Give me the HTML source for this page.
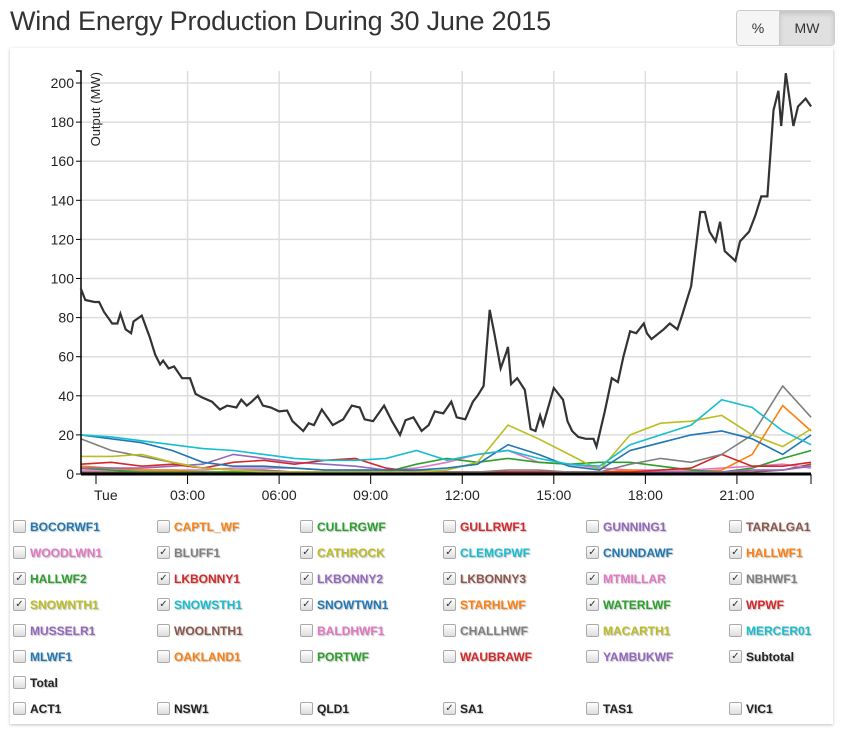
<!DOCTYPE html>
<html><head><meta charset="utf-8">
<style>
body{margin:0;background:#fff;font-family:"Liberation Sans",sans-serif;width:844px;height:731px;overflow:hidden;position:relative}
#title{position:absolute;left:10px;top:6px;font-size:27px;color:#333;letter-spacing:-0.2px}
.btns{position:absolute;left:736px;top:10px;height:34px;display:flex;border:1px solid #ccc;border-radius:4px;overflow:hidden}
.btn{display:flex;align-items:center;justify-content:center;font-size:14px;color:#333;background:#f5f5f5}
.btn.active{background:#e0e0e0;box-shadow:inset 0 3px 5px rgba(0,0,0,.125)}
#card{position:absolute;left:10px;top:48px;width:823px;height:676px;background:#fff;box-shadow:0 1px 3px rgba(0,0,0,.25)}
svg{position:absolute;left:0;top:0}
.leg{position:absolute;font-size:12px;font-weight:bold;text-shadow:1px 1px 1px rgba(0,0,0,.25);white-space:nowrap}
.cb{position:absolute;width:11px;height:11px;border:1px solid #aaa;border-radius:2px;background:linear-gradient(#fff,#ddd);font-size:10px;line-height:11px;text-align:center;color:#333}
</style></head><body>
<div id="title">Wind Energy Production During 30 June 2015</div>
<div class="btns">
<div class="btn" style="width:42px;border-right:1px solid #ccc">%</div>
<div class="btn active" style="width:54px">MW</div>
</div>
<div id="card"></div>
<svg id="chart" width="844" height="731"></svg>
<div id="legend"></div>
<script>
const yTicks=[0,20,40,60,80,100,120,140,160,180,200];
const xTickHours=[0,3,6,9,12,15,18,21];
const xTickLabels=["Tue","03:00","06:00","09:00","12:00","15:00","18:00","21:00"];
const subHours=[-0.5,-0.35,-0.05,0.1,0.26,0.53,0.7,0.8,0.97,1.15,1.23,1.5,1.76,1.94,2.1,2.2,2.38,2.56,2.82,3.08,3.26,3.5,3.8,4.06,4.3,4.6,4.76,4.94,5.1,5.3,5.47,5.73,6.0,6.26,6.44,6.79,6.97,7.14,7.4,7.76,8.1,8.38,8.64,8.8,9.08,9.44,9.7,9.96,10.14,10.4,10.67,10.9,11.1,11.38,11.64,11.82,12.1,12.35,12.5,12.7,12.9,13.05,13.26,13.44,13.5,13.6,13.8,14.05,14.24,14.4,14.55,14.65,15.0,15.3,15.45,15.6,15.8,16.05,16.3,16.4,16.67,16.9,17.1,17.28,17.5,17.7,17.95,18.05,18.2,18.6,18.8,19.05,19.2,19.5,19.8,19.95,20.1,20.3,20.45,20.6,20.95,21.1,21.4,21.6,21.8,22.0,22.2,22.36,22.45,22.6,22.85,23.0,23.25,23.43];
const subValues=[95,89,88,88,83,77,77,82,74,72,78,81,70,61,56,58,54,55,49,49,41,39,37,33,35,34,38,35,37,40,35,34,32,32.5,27,22,26,25,33,25,28,35,34,28,27,35,27,20,27.5,29,22,25,32,31,37,29,28,37,40,45,84,72,54,62,65,46,49,43,23,22,30,25,44,38,27,22,19,18,18,14,32,49,47,60,73,72,77,72,69,74,77,74,81,96,134,134,124,119,129,114,109,119,124,132,142,142,186,196,178,205,178,188,192,188];
const hrs=[-0.5,0.5,1.5,2.5,3.5,4.5,5.5,6.5,7.5,8.5,9.5,10.5,11.5,12.5,13.5,14.5,15.5,16.5,17.5,18.5,19.5,20.5,21.5,22.5,23.43];
const snowsth1=[20,19,17,15,13,12,10,8,7,7,8,12,7,10,12,8,5,4,15,20,25,38,34,22,15];
const snowtwn1=[20,18,16,12,6,4,4,3,2,2,2,2,3,5,15,10,4,2,12,16,20,22,18,10,20];
const bluff1=[18,12,9,6,3,2,2,1,1,1,1,1,1,1,2,2,1,1,5,8,6,10,20,45,29];
const snownth1=[9,9,10,6,3,2,1,1,1,1,1,1,2,6,25,18,10,2,20,26,27,30,20,14,23];
const lkbonny1=[5,6,4,5,3,6,7,5,7,8,3,1,1,1,1,1,1,1,1,2,3,10,4,4,6];
const lkbonny2=[3,3,3,4,5,10,8,6,5,4,2,2,1,1,1,1,1,1,1,1,1,1,2,2,4];
const hallwf2=[3,2,1,1,1,1,1,1,1,1,1,5,8,6,8,6,5,6,6,4,2,1,3,8,12];
const hallwf1=[4,3,2,2,1,1,1,1,1,1,1,1,1,1,1,1,1,1,2,1,1,2,10,35,22];
const mtmillar=[2,2,2,2,2,3,3,3,2,2,2,3,6,10,12,6,5,3,2,2,2,3,4,5,3];
const lkbonny3=[1,1,1,1,1,1,1,1,1,1,1,1,1,1,1,1,1,1,1,1,1,1,1,2,5];
const seriesList=[["lkbonny3",lkbonny3,"#8c564b"],["mtmillar",mtmillar,"#e377c2"],["hallwf1",hallwf1,"#ff7f0e"],["hallwf2",hallwf2,"#2ca02c"],["lkbonny2",lkbonny2,"#9467bd"],["lkbonny1",lkbonny1,"#d62728"],["bluff1",bluff1,"#7f7f7f"],["snownth1",snownth1,"#bcbd22"],["snowtwn1",snowtwn1,"#1f77b4"],["snowsth1",snowsth1,"#17becf"]];

const X0=81,X1=811,Y0=474,Ytop=71;
const x=h=>96+h*30.52;
const y=v=>Y0-v*1.955;
const NS="http://www.w3.org/2000/svg";
const svg=document.getElementById('chart');
function mk(tag,attrs){const e=document.createElementNS(NS,tag);for(const k in attrs)e.setAttribute(k,attrs[k]);svg.appendChild(e);return e;}
yTicks.forEach(t=>{
 if(t>0){const g=mk('line',{x1:X0,x2:X1,y1:y(t),y2:y(t),stroke:'#ddd','stroke-width':1.5});
 
 }
 const tk=mk('line',{x1:X0-5,x2:X0,y1:y(t),y2:y(t),stroke:'#000'});
 
 
 const tx=mk('text',{x:X0-7,y:y(t)+5,'text-anchor':'end','font-size':14,fill:'#222'});
 tx.textContent=t;
 
 
});
xTickHours.forEach((h,i)=>{
 if(h>0){const g=mk('line',{x1:x(h),x2:x(h),y1:Ytop,y2:Y0,stroke:'#ddd','stroke-width':1.5});
 
 }
 const tk=mk('line',{x1:x(h),x2:x(h),y1:Y0,y2:Y0+10,stroke:'#000'});
 
 
 const tx=mk('text',{x:h===0?x(h)-2:x(h),y:Y0+26,'text-anchor':h===0?'start':'middle','font-size':14,fill:'#222'});
 tx.textContent=xTickLabels[i];
 
 
});
seriesList.forEach(s=>{
 const d=hrs.map((h,i)=>(i?'L':'M')+x(h).toFixed(1)+','+y(s[1][i]).toFixed(1)).join('');
 const p=mk('path',{d:d,fill:'none',stroke:s[2],'stroke-width':1.6});
 
 
});
const base=mk('line',{x1:X0,x2:X1,y1:Y0,y2:Y0,stroke:'#000','stroke-width':3});


const ya=mk('path',{d:`M${X0-5},${Ytop}H${X0}V${Y0}`,fill:'none',stroke:'#000','stroke-width':1.5});


const xa=mk('line',{x1:X1,x2:X1,y1:Y0,y2:Y0+10,stroke:'#000'});


const sd=subHours.map((h,i)=>(i?'L':'M')+x(h).toFixed(1)+','+y(subValues[i]).toFixed(1)).join('');
const sp=mk('path',{d:sd,fill:'none',stroke:'#333','stroke-width':2.2});


const at=mk('text',{transform:`translate(100,72) rotate(-90)`,'text-anchor':'end','font-size':13,fill:'#222'});
at.textContent='Output (MW)';



const legendItems=[
["BOCORWF1","#1f77b4",0],["CAPTL_WF","#ff7f0e",0],["CULLRGWF","#2ca02c",0],["GULLRWF1","#d62728",0],["GUNNING1","#9467bd",0],["TARALGA1","#8c564b",0],
["WOODLWN1","#e377c2",0],["BLUFF1","#7f7f7f",1],["CATHROCK","#bcbd22",1],["CLEMGPWF","#17becf",1],["CNUNDAWF","#1f77b4",1],["HALLWF1","#ff7f0e",1],
["HALLWF2","#2ca02c",1],["LKBONNY1","#d62728",1],["LKBONNY2","#9467bd",1],["LKBONNY3","#8c564b",1],["MTMILLAR","#e377c2",1],["NBHWF1","#7f7f7f",1],
["SNOWNTH1","#bcbd22",1],["SNOWSTH1","#17becf",1],["SNOWTWN1","#1f77b4",1],["STARHLWF","#ff7f0e",1],["WATERLWF","#2ca02c",1],["WPWF","#d62728",1],
["MUSSELR1","#9467bd",0],["WOOLNTH1","#8c564b",0],["BALDHWF1","#e377c2",0],["CHALLHWF","#7f7f7f",0],["MACARTH1","#bcbd22",0],["MERCER01","#17becf",0],
["MLWF1","#1f77b4",0],["OAKLAND1","#ff7f0e",0],["PORTWF","#2ca02c",0],["WAUBRAWF","#d62728",0],["YAMBUKWF","#9467bd",0],["Subtotal","#222",1],
["Total","#222",0]];
const regionItems=[["ACT1",0],["NSW1",0],["QLD1",0],["SA1",1],["TAS1",0],["VIC1",0]];
const leg=document.getElementById('legend');
const colX=[13,157,300,443,586,729];
function addItem(name,color,checked,cx,cy){
 const c=document.createElement('div');c.className='cb';c.style.left=cx+'px';c.style.top=(cy-7)+'px';
 if(checked)c.textContent='✓';
 
 
 leg.appendChild(c);
 const l=document.createElement('div');l.className='leg';l.style.left=(cx+17)+'px';l.style.top=(cy-7)+'px';l.style.color=color;l.textContent=name;
 
 
 leg.appendChild(l);
}
legendItems.forEach((it,i)=>addItem(it[0],it[1],it[2],colX[i%6],527+Math.floor(i/6)*26));
regionItems.forEach((it,i)=>addItem(it[0],'#222',it[1],colX[i],709));
</script>
</body></html>
